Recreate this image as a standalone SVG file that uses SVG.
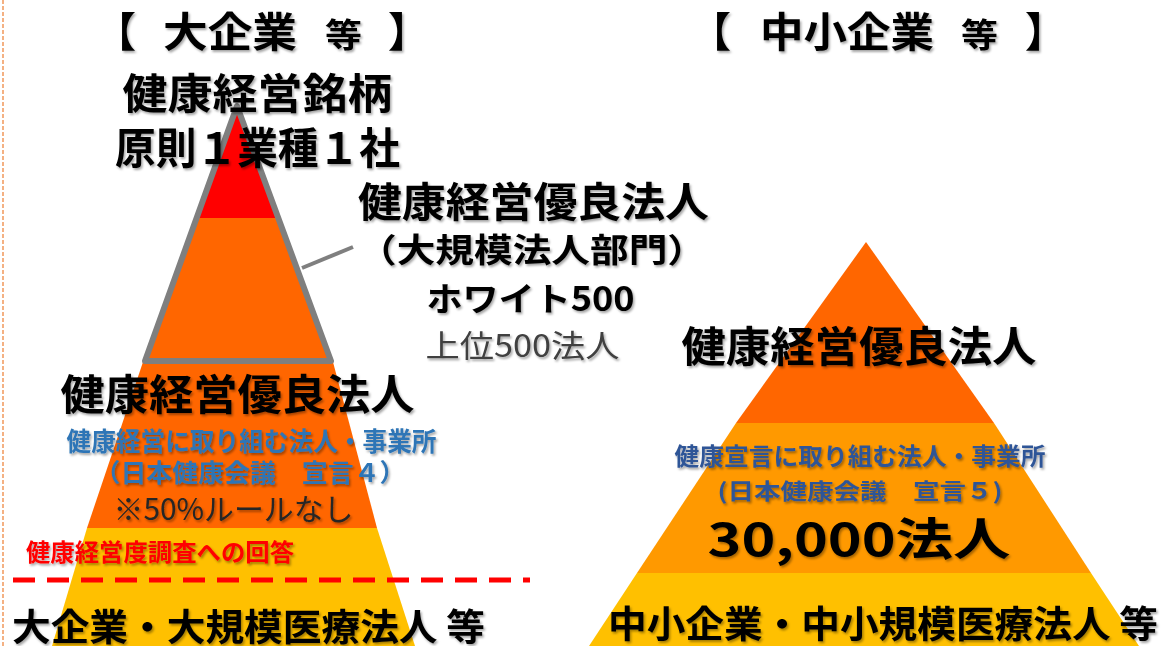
<svg xmlns="http://www.w3.org/2000/svg" width="1161" height="646" viewBox="0 0 1161 646">
<style>
text{font-family:"Noto Sans CJK JP","Noto Sans CJK SC",sans-serif;fill:#000;filter:url(#sh)}
.b{font-weight:bold}
.n{font-weight:normal}
.m{text-anchor:middle}
.blue{fill:#2E75B6;font-weight:bold}
.navy{fill:#2F5597;font-weight:bold}
.red{fill:#FF0000;font-weight:bold}
</style>
<defs>
<filter id="sh" x="-5%" y="-30%" width="110%" height="160%">
<feDropShadow dx="1.5" dy="2" stdDeviation="1.2" flood-color="#000" flood-opacity="0.35"/>
</filter>
</defs>
<rect width="1161" height="646" fill="#fff"/>
<line x1="3" y1="0" x2="3" y2="646" stroke="#F4B183" stroke-width="2" stroke-dasharray="4 2"/>

<g id="pyramid-large">
<polygon points="238,104 280,218 196,218" fill="#FF0000"/>
<polygon points="196,218 280,218 333,362 143,362" fill="#FF6600"/>
<polygon points="143,362 333,362 377,528 87,528" fill="#FF6600"/>
<polygon points="87,528 377,528 415,646 52,646" fill="#FFC000"/>
<polygon points="237,106 331,361 145,361" fill="none" stroke="#7F7F7F" stroke-width="6" stroke-linejoin="round"/>
</g>

<g id="pyramid-small">
<polygon points="866,242 994,423 736,423" fill="#FF6600"/>
<polygon points="736,423 994,423 1091,573 637,573" fill="#FF9900"/>
<polygon points="637,573 1091,573 1139,646 589,646" fill="#FFC000"/>
</g>

<g id="connectors">
<line x1="302" y1="268" x2="353" y2="247" stroke="#7F7F7F" stroke-width="4"/>
<line x1="13" y1="580" x2="530" y2="580" stroke="#FF0000" stroke-width="5" stroke-dasharray="22 12"/>
</g>

<g id="title-large">
<text class="b" x="95" y="47" font-size="41">【</text>
<text class="b" x="163" y="47" font-size="41" textLength="134" lengthAdjust="spacingAndGlyphs">大企業</text>
<text class="b" x="325" y="47" font-size="33" textLength="37" lengthAdjust="spacingAndGlyphs">等</text>
<text class="b" x="388" y="47" font-size="41">】</text>
</g>

<g id="title-small">
<text class="b" x="690" y="47" font-size="41">【</text>
<text class="b" x="760" y="47" font-size="41" textLength="174" lengthAdjust="spacingAndGlyphs">中小企業</text>
<text class="b" x="961" y="47" font-size="33" textLength="37" lengthAdjust="spacingAndGlyphs">等</text>
<text class="b" x="1025" y="47" font-size="41">】</text>
</g>

<g id="node-meigara">
<text class="b m" x="257.5" y="109" font-size="42" textLength="270" lengthAdjust="spacingAndGlyphs">健康経営銘柄</text>
<text class="b m" x="257.5" y="164" font-size="43" textLength="285" lengthAdjust="spacingAndGlyphs">原則１業種１社</text>
</g>

<g id="node-white500">
<text class="b m" x="533.5" y="217" font-size="41" textLength="351" lengthAdjust="spacingAndGlyphs">健康経営優良法人</text>
<text class="b m" x="532" y="262" font-size="33" textLength="348" lengthAdjust="spacingAndGlyphs">（大規模法人部門）</text>
<text class="b m" x="530.5" y="311" font-size="33" textLength="208" lengthAdjust="spacingAndGlyphs">ホワイト500</text>
<text class="n m" x="522.5" y="357" font-size="31" textLength="194" lengthAdjust="spacingAndGlyphs" style="fill:#404040">上位500法人</text>
</g>

<g id="node-large-yuryo">
<text class="b m" x="237.5" y="410" font-size="42" textLength="354" lengthAdjust="spacingAndGlyphs">健康経営優良法人</text>
<text class="blue m" x="251.5" y="451" font-size="26" textLength="370" lengthAdjust="spacingAndGlyphs">健康経営に取り組む法人・事業所</text>
<text class="blue m" x="250" y="482" font-size="25" textLength="311" lengthAdjust="spacingAndGlyphs">（日本健康会議　宣言４）</text>
<text class="n m" x="233.5" y="520" font-size="30" textLength="240" lengthAdjust="spacingAndGlyphs" style="fill:#262626">※50%ルールなし</text>
</g>

<g id="node-survey">
<text class="red m" x="160" y="561" font-size="24" textLength="268" lengthAdjust="spacingAndGlyphs">健康経営度調査への回答</text>
</g>

<g id="node-large-base">
<text class="b" x="12" y="641" font-size="37" textLength="473" lengthAdjust="spacingAndGlyphs">大企業・大規模医療法人 等</text>
</g>

<g id="node-small-yuryo">
<text class="b m" x="859" y="362" font-size="42" textLength="355" lengthAdjust="spacingAndGlyphs">健康経営優良法人</text>
</g>

<g id="node-small-declare">
<text class="navy m" x="860" y="465" font-size="24" textLength="371" lengthAdjust="spacingAndGlyphs">健康宣言に取り組む法人・事業所</text>
<text class="navy m" x="860" y="499" font-size="22" textLength="285" lengthAdjust="spacingAndGlyphs">(日本健康会議　宣言５)</text>
<text class="b m" x="859" y="556" font-size="45" textLength="303" lengthAdjust="spacingAndGlyphs">30,000法人</text>
</g>

<g id="node-small-base">
<text class="b" x="608" y="638" font-size="37" textLength="550" lengthAdjust="spacingAndGlyphs">中小企業・中小規模医療法人 等</text>
</g>
</svg>
